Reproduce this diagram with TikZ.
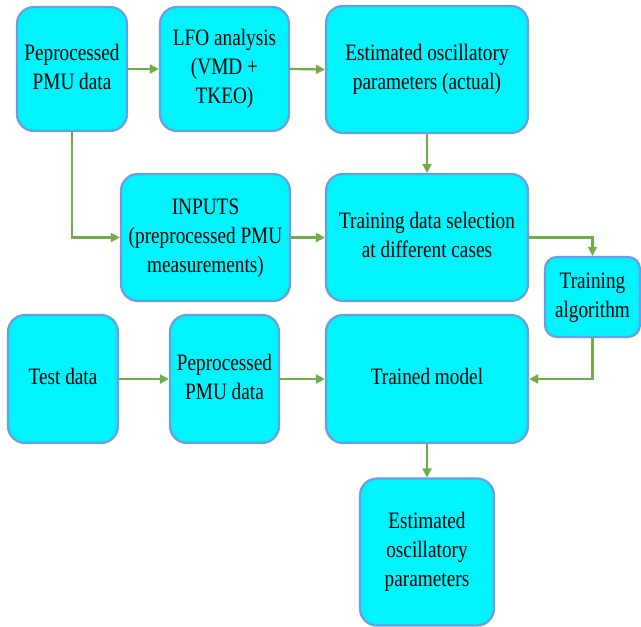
\documentclass[tikz,border=0pt]{standalone}
\usepackage{fontspec}
\usepackage{graphicx}
\setmainfont{Liberation Serif}
\usetikzlibrary{arrows.meta}
\definecolor{boxfill}{HTML}{00F4FD}
\definecolor{boxline}{HTML}{6A9EE2}
\definecolor{arrgreen}{HTML}{70AD47}
\newcommand{\nt}[1]{\scalebox{0.82}[1]{\fontsize{23.5}{29}\selectfont\begin{tabular}{@{}c@{}}#1\end{tabular}}}
\begin{document}
\begin{tikzpicture}[x=1pt,y=-1pt,
  box/.style={draw=boxline, line width=2.2pt, fill=boxfill, rounded corners=17pt,
    align=center, inner sep=0pt, text=black},
  conn/.style={draw=arrgreen, line width=2.2pt, -{Triangle[length=9pt,width=9pt]}}]
\useasboundingbox (0,0) rectangle (641,627);
\node[box, minimum width=110pt, minimum height=124pt] (b1) at (72,69) {\nt{Peprocessed\\PMU data}};
\node[box, minimum width=129pt, minimum height=124pt] (b2) at (224.5,69) {\nt{LFO analysis\\(VMD +\\TKEO)}};
\node[box, minimum width=202pt, minimum height=127pt] (b3) at (427,69.5) {\nt{Estimated oscillatory\\parameters (actual)}};
\node[box, minimum width=169pt, minimum height=127pt] (b4) at (205.5,237.5) {\nt{INPUTS\\(preprocessed PMU\\measurements)}};
\node[box, minimum width=202pt, minimum height=127pt] (b5) at (427,237.5) {\nt{Training data selection\\at different cases}};
\node[box, rounded corners=12pt, minimum width=95pt, minimum height=80pt] (b6) at (592.5,297) {\nt{Training\\algorithm}};
\node[box, minimum width=110pt, minimum height=128pt] (b7) at (63,379) {\nt{Test data}};
\node[box, minimum width=109pt, minimum height=128pt] (b8) at (224.5,379) {\nt{Peprocessed\\PMU data}};
\node[box, minimum width=202pt, minimum height=128pt] (b9) at (427,379) {\nt{Trained model}};
\node[box, minimum width=134pt, minimum height=147pt] (b10) at (427,552) {\nt{Estimated\\oscillatory\\parameters}};
\draw[conn] (b1.east) -- (b2.west);
\draw[conn] (b2.east) -- (b3.west);
\draw[conn] (b3.south) -- (b5.north);
\draw[conn] (b1.south) |- (b4.west);
\draw[conn] (b4.east) -- (b5.west);
\draw[conn] (b5.east) -| (b6.north);
\draw[conn] (b6.south) |- (b9.east);
\draw[conn] (b7.east) -- (b8.west);
\draw[conn] (b8.east) -- (b9.west);
\draw[conn] (b9.south) -- (b10.north);
\end{tikzpicture}
\end{document}
